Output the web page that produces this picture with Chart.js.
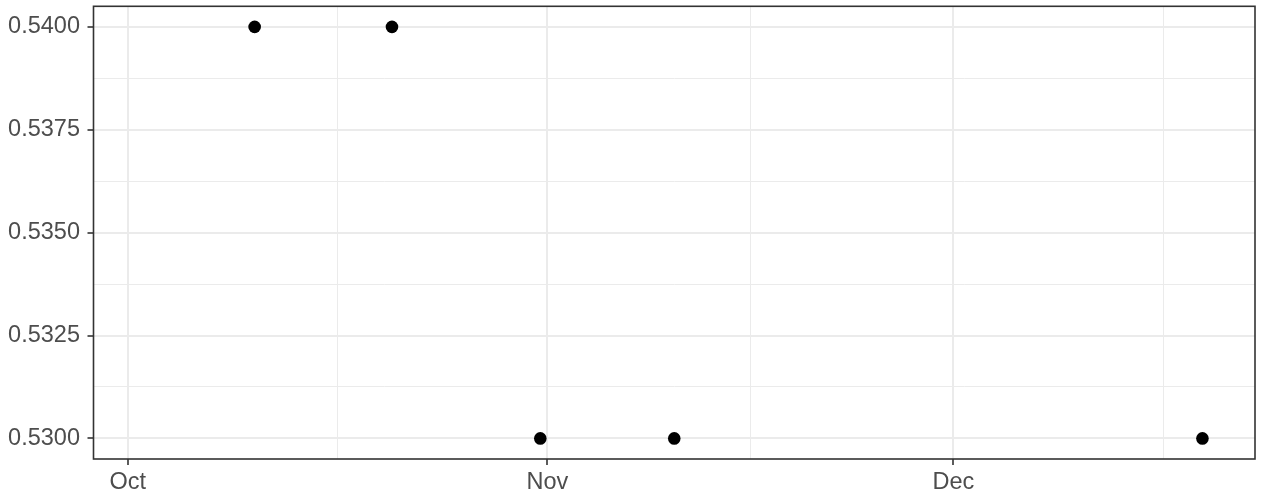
<!DOCTYPE html>
<html>
<head>
<meta charset="utf-8">
<script src="https://cdn.jsdelivr.net/npm/chart.js@4/dist/chart.umd.min.js"></script>
<style>
  html, body { margin: 0; padding: 0; background: #ffffff; }
  #wrap { width: 1262px; height: 498px; }
</style>
</head>
<body>
<div id="wrap"><canvas id="c" width="1262" height="498"></canvas></div>
<script>
// ---- data ----
const pointDates  = ['2021-10-10T09:00Z', '2021-10-20T12:30Z', '2021-10-31T11:30Z', '2021-11-10T09:00Z', '2021-12-19T09:30Z'];
const pointValues = [0.5400, 0.5400, 0.5300, 0.5300, 0.5300];

const xTickDates  = ['2021-10-01', '2021-11-01', '2021-12-01'];
const xTickLabels = ['Oct', 'Nov', 'Dec'];
const xMinorBase  = ['2021-09-01', '2021-10-01', '2021-11-01', '2021-12-01', '2022-01-01'];
const xLimits     = ['2021-09-28T11:17Z', '2021-12-23T06:43Z'];

const yTickValues = [0.5300, 0.5325, 0.5350, 0.5375, 0.5400];
const yTickLabels = ['0.5300', '0.5325', '0.5350', '0.5375', '0.5400'];
const yLimits     = [0.5295, 0.5405];

// ---- helpers ----
const ORIGIN = Date.parse('2021-10-01T00:00Z');
const DAY = 86400000;
const toDay = s => (Date.parse(s.length === 10 ? s + 'T00:00Z' : s) - ORIGIN) / DAY;

const xMin = toDay(xLimits[0]), xMax = toDay(xLimits[1]);

function buildXTicks() {
  const ticks = xTickDates.map((d, i) => ({ value: toDay(d), lab: xTickLabels[i], minor: false }));
  for (let i = 0; i < xMinorBase.length - 1; i++) {
    const m = (toDay(xMinorBase[i]) + toDay(xMinorBase[i + 1])) / 2;
    if (m >= xMin && m <= xMax) ticks.push({ value: m, lab: '', minor: true });
  }
  return ticks.sort((a, b) => a.value - b.value);
}
function buildYTicks() {
  const ticks = yTickValues.map((v, i) => ({ value: v, lab: yTickLabels[i], minor: false }));
  for (let i = 0; i < yTickValues.length - 1; i++) {
    ticks.push({ value: (yTickValues[i] + yTickValues[i + 1]) / 2, lab: '', minor: true });
  }
  return ticks.sort((a, b) => a.value - b.value);
}

const points = pointDates.map((d, i) => ({ x: toDay(d), y: pointValues[i] }));

const GRID = '#EBEBEB';
const INK = '#333333';
const TXT = '#4D4D4D';
const FONT = { family: '"Liberation Sans", Arial, sans-serif', size: 23.5 };

const gridOpts = {
  color: GRID,
  lineWidth: ctx => (ctx.tick && ctx.tick.minor) ? 1 : 2,
  drawTicks: true,
  tickLength: 6,
  tickWidth: 1.6,
  tickColor: ctx => (ctx.tick && ctx.tick.minor) ? 'rgba(0,0,0,0)' : INK
};

const panelBorder = {
  id: 'panelBorder',
  afterDatasetsDraw(chart) {
    const a = chart.chartArea, c = chart.ctx;
    c.save();
    c.strokeStyle = INK;
    c.lineWidth = 1.6;
    c.strokeRect(a.left, a.top, a.right - a.left, a.bottom - a.top);
    c.restore();
  }
};

new Chart(document.getElementById('c'), {
  type: 'scatter',
  data: {
    datasets: [{
      data: points,
      backgroundColor: '#000000',
      borderColor: '#000000',
      borderWidth: 0,
      pointRadius: 6.3,
      pointHoverRadius: 6.3
    }]
  },
  options: {
    responsive: false,
    animation: false,
    devicePixelRatio: 1,
    layout: { padding: { top: 5.5, right: 7, bottom: 0, left: 0 } },
    plugins: { legend: { display: false }, tooltip: { enabled: false } },
    scales: {
      x: {
        type: 'linear',
        min: xMin,
        max: xMax,
        afterBuildTicks: s => { s.ticks = buildXTicks(); },
        afterFit: s => { s.height = 39; s.paddingLeft = 0; s.paddingRight = 0; },
        border: { display: false },
        grid: gridOpts,
        ticks: {
          autoSkip: false,
          maxRotation: 0,
          minRotation: 0,
          padding: 3,
          color: TXT,
          font: FONT,
          callback: (v, i, t) => t[i].lab || ''
        }
      },
      y: {
        type: 'linear',
        min: yLimits[0],
        max: yLimits[1],
        afterBuildTicks: s => { s.ticks = buildYTicks(); },
        afterFit: s => { s.width = 93.5; s.paddingTop = 0; s.paddingBottom = 0; },
        border: { display: false },
        grid: gridOpts,
        ticks: {
          autoSkip: false,
          padding: 7.5,
          color: TXT,
          font: FONT,
          callback: (v, i, t) => t[i].lab || ''
        }
      }
    }
  },
  plugins: [panelBorder]
});
</script>
</body>
</html>
